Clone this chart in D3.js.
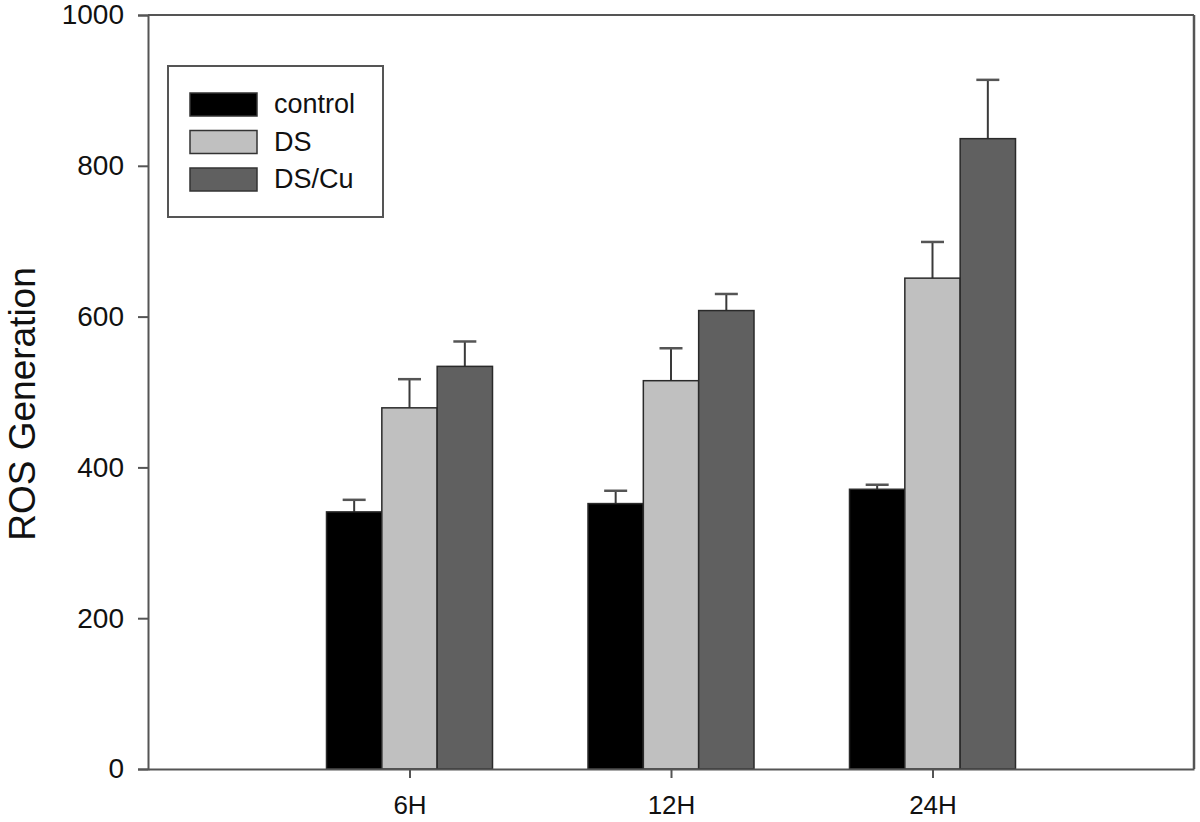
<!DOCTYPE html>
<html><head><meta charset="utf-8">
<script src="https://cdn.jsdelivr.net/npm/d3@7"></script>
<style>body{margin:0;background:#fff;}svg{display:block;font-family:"Liberation Sans",Arial,sans-serif;}</style>
</head><body>
<svg id="c" width="1200" height="822"></svg>
<script>
const categories = ["6H", "12H", "24H"];
const seriesNames = ["control", "DS", "DS/Cu"];
const controlVals = [341, 352, 371];
const dsVals = [479, 515, 651];
const dscuVals = [534, 608, 836];
const controlErr = [16, 17, 6];
const dsErr = [38, 43, 48];
const dscuErr = [33, 22, 78];
const yTicks = [0, 200, 400, 600, 800, 1000];
const yLabel = "ROS Generation";

const colors = ["#000000", "#c0c0c0", "#606060"];
const values = [controlVals, dsVals, dscuVals];
const errs = [controlErr, dsErr, dscuErr];

const svg = d3.select("#c");
const L = 148, R = 1194, T = 15, B = 769;
const x = d3.scalePoint().domain(categories).range([L, R]).padding(1);
const y = d3.scaleLinear().domain([0, 1000]).range([B, T]);
const inner = d3.scaleBand().domain(seriesNames).range([-83, 83]).padding(0);

const axisColor = "#555";

const data = [];
categories.forEach((c, i) => seriesNames.forEach((s, j) => data.push({c, s, j, v: values[j][i], e: errs[j][i]})));

// error bars (behind bars)
const eg = svg.append("g");
data.forEach(d => {
  const cx = x(d.c) + inner(d.s) + inner.bandwidth() / 2;
  eg.append("line").attr("x1", cx).attr("x2", cx).attr("y1", y(d.v)).attr("y2", y(d.v + d.e))
    .attr("stroke", "#3a3a3a").attr("stroke-width", 2);
  eg.append("line").attr("x1", cx - 11.5).attr("x2", cx + 11.5).attr("y1", y(d.v + d.e)).attr("y2", y(d.v + d.e))
    .attr("stroke", "#555").attr("stroke-width", 2.5);
});

svg.append("g").selectAll("rect").data(data).join("rect")
  .attr("x", d => x(d.c) + inner(d.s))
  .attr("y", d => y(d.v))
  .attr("width", inner.bandwidth())
  .attr("height", d => y(0) - y(d.v))
  .attr("fill", d => colors[d.j])
  .attr("stroke", "#2a2a2a").attr("stroke-width", 1.5);

// axes
const yAxis = d3.axisLeft(y).tickValues(yTicks).tickSize(10).tickPadding(14).tickFormat(d3.format("d"));
const gy = svg.append("g").attr("transform", `translate(${L},0)`).call(yAxis);
gy.select(".domain").attr("stroke", axisColor).attr("stroke-width", 2);
gy.selectAll(".tick line").attr("stroke", axisColor).attr("stroke-width", 2);
gy.selectAll(".tick text").attr("font-size", 28).attr("fill", "#111").attr("font-family", "Liberation Sans, Arial, sans-serif");

const xAxis = d3.axisBottom(x).tickSize(9).tickSizeOuter(0).tickPadding(18);
const gx = svg.append("g").attr("transform", `translate(0,${B})`).call(xAxis);
gx.select(".domain").attr("stroke", axisColor).attr("stroke-width", 2);
gx.selectAll(".tick line").attr("stroke", axisColor).attr("stroke-width", 2);
gx.selectAll(".tick text").attr("font-size", 26).attr("fill", "#111").attr("font-family", "Liberation Sans, Arial, sans-serif");

// frame top & right
svg.append("line").attr("x1", L).attr("x2", R).attr("y1", T).attr("y2", T).attr("stroke", axisColor).attr("stroke-width", 2);
svg.append("line").attr("x1", R).attr("x2", R).attr("y1", T).attr("y2", B).attr("stroke", axisColor).attr("stroke-width", 2.5);

// y label
svg.append("text").attr("transform", `translate(35,${(T + B) / 2 + 12}) rotate(-90)`)
  .attr("text-anchor", "middle").attr("font-size", 37).attr("fill", "#111").text(yLabel);

// legend
const lg = svg.append("g");
lg.append("rect").attr("x", 168).attr("y", 66).attr("width", 215).attr("height", 151)
  .attr("fill", "#fff").attr("stroke", "#555").attr("stroke-width", 2);
seriesNames.forEach((s, j) => {
  const yy = 93 + j * 37.5;
  lg.append("rect").attr("x", 190).attr("y", yy).attr("width", 67).attr("height", 23)
    .attr("fill", colors[j]).attr("stroke", "#333").attr("stroke-width", 1.5);
  lg.append("text").attr("x", 274).attr("y", yy + 20).attr("font-size", 27).attr("fill", "#111").text(s);
});
</script>
</body></html>
